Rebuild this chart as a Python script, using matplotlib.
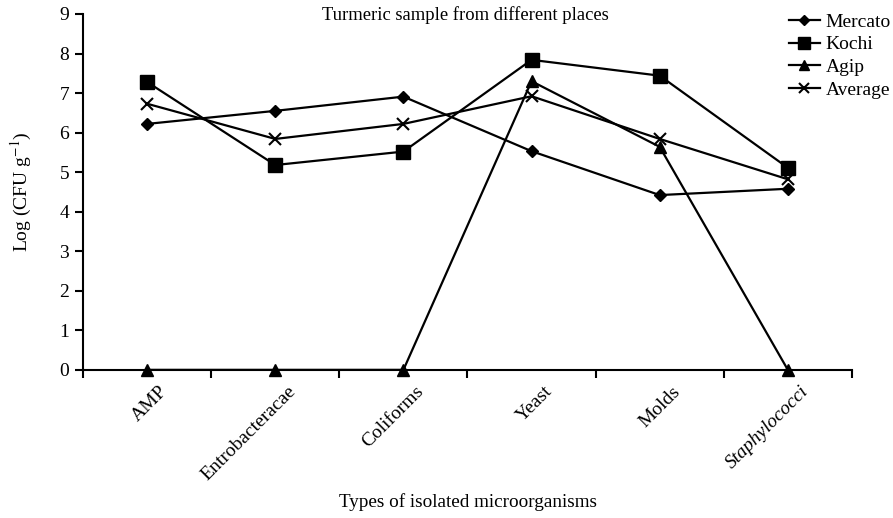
import numpy as np
import matplotlib.pyplot as plt
import matplotlib.transforms as mtransforms

plt.rcParams['font.family'] = ['Liberation Serif', 'DejaVu Serif']
plt.rcParams['mathtext.fontset'] = 'stix'

# data
categories = ['AMP', 'Entrobacteracae', 'Coliforms', 'Yeast', 'Molds', 'Staphylococci']
mercato = [6.22, 6.55, 6.91, 5.53, 4.42, 4.58]
kochi = [7.28, 5.18, 5.52, 7.84, 7.44, 5.11]
agip = [0.0, 0.0, 0.0, 7.30, 5.64, 0.0]
average = [6.73, 5.84, 6.22, 6.92, 5.84, 4.82]

fig = plt.figure(figsize=(8.93, 5.18), dpi=100)
ax = fig.add_axes([0.093, 0.286, 0.861, 0.687])

x = np.arange(len(categories))
ax.plot(x, mercato, color='black', lw=1.6, marker='D', ms=6, label='Mercato')
ax.plot(x, kochi, color='black', lw=1.6, marker='s', ms=10, label='Kochi')
ax.plot(x, agip, color='black', lw=1.6, marker='^', ms=9, label='Agip', clip_on=False)
ax.plot(x, average, color='black', lw=1.6, marker='x', ms=9, mew=1.5, label='Average')

ax.set_xlim(-0.5, 5.5)
ax.set_ylim(0, 9)
ax.set_yticks(range(10))
ax.set_xticks(np.arange(-0.5, 6.0, 1.0))
ax.set_xticklabels([])
ax.tick_params(axis='x', which='major', length=6, width=1.5, direction='out')
ax.tick_params(axis='y', length=6, width=1.5, labelsize=14, pad=4)

# category labels, rotated, sitting between the tick marks
lab_tr = ax.get_xaxis_transform() + mtransforms.ScaledTranslation(
    12 / 100, -13 / 100, fig.dpi_scale_trans)
for xi, name in zip(x, categories):
    ax.text(xi, 0, name, transform=lab_tr, rotation=45, ha='right', va='top',
            rotation_mode='anchor', fontsize=14,
            style='italic' if name == 'Staphylococci' else 'normal')

for s in ['top', 'right']:
    ax.spines[s].set_visible(False)
for s in ['left', 'bottom']:
    ax.spines[s].set_linewidth(1.5)

ax.set_ylabel('Log (CFU g$^{-1}$)', fontsize=14, labelpad=18)
fig.text(0.524, 0.022, 'Types of isolated microorganisms', ha='center', fontsize=13.8)
fig.text(0.521, 0.962, 'Turmeric sample from different places', ha='center', fontsize=13.4)

ax.legend(loc='upper left', bbox_to_anchor=(0.879, 0.982), bbox_transform=fig.transFigure,
          frameon=False, fontsize=14, handlelength=1.6, handletextpad=0.3,
          labelspacing=0.26, borderpad=0.2, borderaxespad=0, markerscale=0.8)

fig.savefig('out.png', dpi=100)
